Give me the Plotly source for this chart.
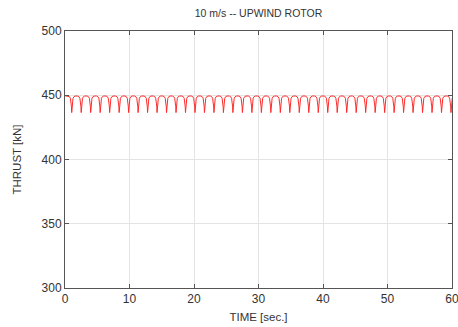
import plotly.graph_objects as go

# Blade-passage dips of the thrust signal (time of each minimum, s)
dip_times = [1.04, 2.51, 3.98, 5.45, 6.92, 8.39, 9.86, 11.33, 12.80, 14.27,
             15.74, 17.21, 18.68, 20.15, 21.62, 23.09, 24.56, 26.03, 27.50,
             28.97, 30.44, 31.91, 33.38, 34.85, 36.32, 37.79, 39.26, 40.73,
             42.20, 43.67, 45.14, 46.61, 48.08, 49.55, 51.02, 52.49, 53.96,
             55.43, 56.90, 58.37, 59.84]

# Shape of one dip: time offset from the minimum (s) and thrust (kN)
dip_offsets = [-0.55, -0.35, -0.2, -0.1, -0.04, 0.0, 0.04, 0.1, 0.2, 0.35, 0.55]
dip_thrust = [449.4, 448.9, 447.6, 445.2, 441.0, 436.5, 441.0, 445.2, 447.6, 448.9, 449.4]

start_time = [0.0, 0.35]
start_thrust = [449.6, 449.5]

time = list(start_time)
thrust = list(start_thrust)
for t0 in dip_times:
    for dt, f in zip(dip_offsets, dip_thrust):
        time.append(round(t0 + dt, 3))
        thrust.append(f)

x_ticks = [0, 10, 20, 30, 40, 50, 60]
y_ticks = [300, 350, 400, 450, 500]

font = "Liberation Sans, Arial, sans-serif"
axis_color = "#555555"
text_color = "#333333"

fig = go.Figure()
fig.add_trace(go.Scatter(x=time, y=thrust, mode="lines",
                         line=dict(color="#ff2a2a", width=1),
                         showlegend=False))

common = dict(showline=True, linecolor=axis_color, linewidth=1, mirror="ticks",
              ticks="inside", ticklen=4, tickcolor=axis_color, tickwidth=1,
              showgrid=True, gridcolor="#e4e4e4", gridwidth=1, zeroline=False,
              automargin=False, ticklabeloverflow="allow",
              tickfont=dict(family=font, size=12, color=text_color))

fig.update_xaxes(range=[0, 60], tickvals=x_ticks,
                 title=dict(text="TIME [sec.]", font=dict(family=font, size=11.5, color=text_color),
                            standoff=7),
                 **common)
fig.update_yaxes(range=[300, 500], tickvals=y_ticks,
                 title=dict(text="THRUST [kN]", font=dict(family=font, size=11.5, color=text_color),
                            standoff=17),
                 **common)

fig.update_layout(
    width=458, height=327,
    margin=dict(l=65, r=6, t=31, b=39),
    paper_bgcolor="white", plot_bgcolor="white",
    title=dict(text="10 m/s -- UPWIND ROTOR", xref="paper", x=0.5, xanchor="center",
               y=0.96, yanchor="middle",
               font=dict(family=font, size=10.5, color=text_color)),
)

fig.write_html("out.html")
